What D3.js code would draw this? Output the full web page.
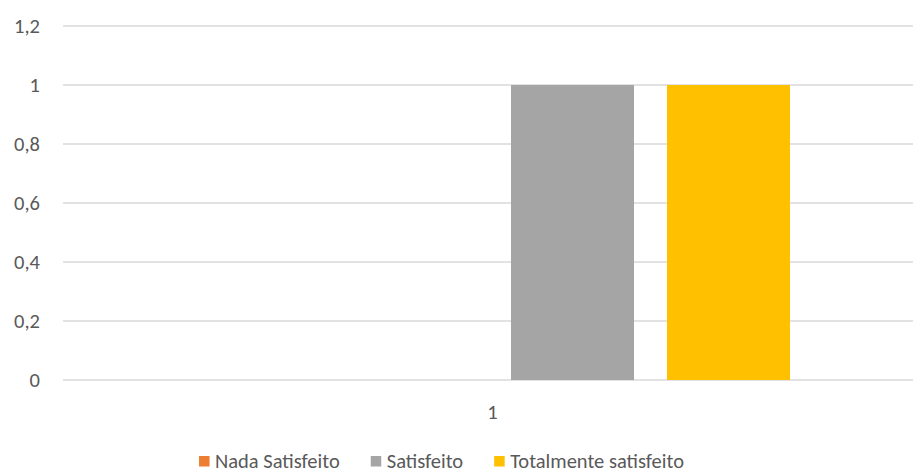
<!DOCTYPE html>
<html><head><meta charset="utf-8">
<script src="https://cdn.jsdelivr.net/npm/d3@7"></script>
<style>
body{margin:0;background:#fff;}
svg{display:block;}
text{font-family:Carlito, Lato, "Liberation Sans", sans-serif;fill:#595959;}
</style></head>
<body><svg id="c" width="913" height="473"></svg>
<script>
const categories = ["1"];
const seriesNames = ["Nada Satisfeito", "", "Satisfeito", "Totalmente satisfeito"];
const seriesColors = ["#ED7D31", "#5B9BD5", "#A5A5A5", "#FFC000"];
const nadaSatisfeito = [0];
const serie2 = [0];
const satisfeito = [1];
const totalmenteSatisfeito = [1];
const seriesValues = [nadaSatisfeito, serie2, satisfeito, totalmenteSatisfeito];
const yTicks = [0, 0.2, 0.4, 0.6, 0.8, 1, 1.2];
const legendSeries = [0, 2, 3];

(function () {
const svg = d3.select("#c");
const mLeft = 63, mRight = 926, mTop = 26, mBottom = 380;

const y = d3.scaleLinear().domain([0, 1.2]).range([mBottom, mTop]);
const x0 = d3.scaleBand().domain(categories).range([mLeft, mRight]).paddingInner(0).paddingOuter(0.1915);
const x1 = d3.scaleBand().domain(d3.range(seriesNames.length)).range([0, x0.bandwidth()]).paddingInner(0.2115).paddingOuter(0.2115/2);

svg.append("g").selectAll("line").data(yTicks).join("line")
  .attr("x1", mLeft).attr("x2", 913)
  .attr("y1", d => y(d)).attr("y2", d => y(d))
  .attr("stroke", "#d9d9d9").attr("stroke-width", 1.3);

const fmt = d => d3.format(".1~f")(d).replace(".", ",");
svg.append("g").selectAll("text").data(yTicks).join("text")
  .attr("x", 40).attr("y", d => y(d)).attr("dy", "0.36em")
  .attr("text-anchor", "end").style("font-size", "20.5px")
  .text(fmt);

const data = [];
categories.forEach((c, ci) => seriesValues.forEach((s, si) => data.push({c, si, v: s[ci]})));
svg.append("g").selectAll("rect").data(data).join("rect")
  .attr("x", d => x0(d.c) + x1(d.si))
  .attr("width", x1.bandwidth())
  .attr("y", d => y(d.v))
  .attr("height", d => y(0) - y(d.v))
  .attr("fill", d => seriesColors[d.si]);

svg.append("g").selectAll("text").data(categories).join("text")
  .attr("x", d => x0(d) + x0.bandwidth() / 2 - 2).attr("y", 419)
  .attr("text-anchor", "middle").style("font-size", "20.5px")
  .text(d => d);

const lg = svg.append("g");
let cx = 0;
legendSeries.forEach((si) => {
  const g = lg.append("g");
  g.append("rect").attr("x", 0).attr("y", -12).attr("width", 10.5).attr("height", 10.5).attr("fill", seriesColors[si]);
  const t = g.append("text").attr("x", 16).attr("y", 0).style("font-size", "20.5px").text(seriesNames[si]);
  const w = 16 + t.node().getComputedTextLength();
  g.attr("transform", `translate(${cx},0)`);
  cx += w + 31;
});
const totalW = cx - 31;
lg.attr("transform", `translate(${441.5 - totalW / 2},468)`);
})();
</script></body></html>
